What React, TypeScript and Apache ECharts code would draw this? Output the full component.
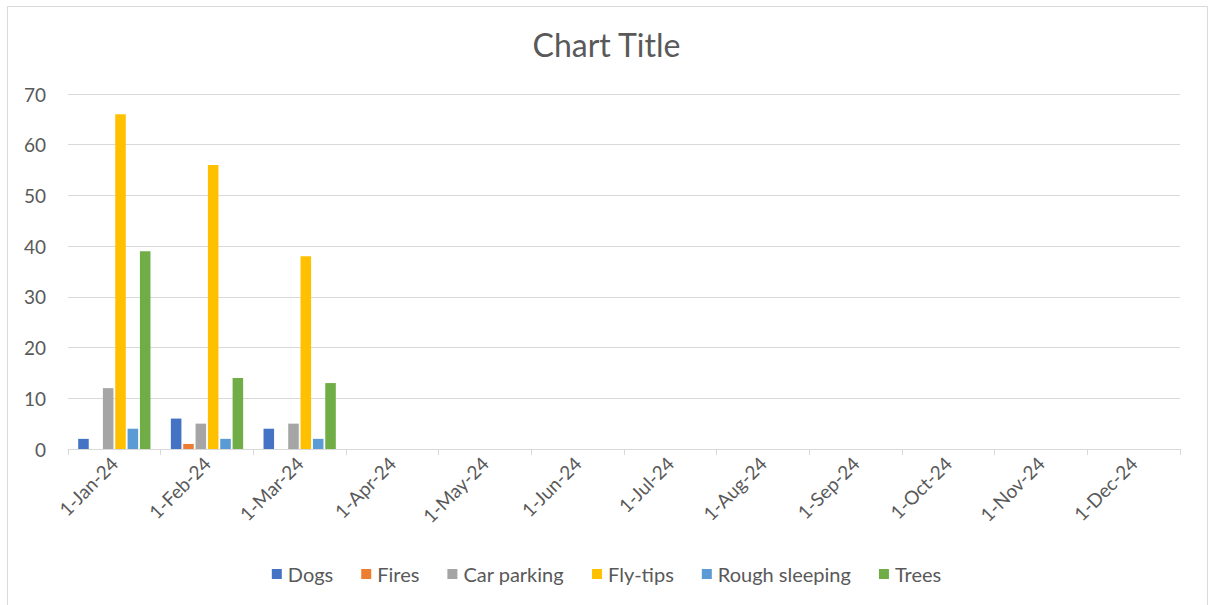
import React, { useEffect, useRef } from "react";
import * as echarts from "echarts";

const categories = [
  "1-Jan-24", "1-Feb-24", "1-Mar-24", "1-Apr-24", "1-May-24", "1-Jun-24",
  "1-Jul-24", "1-Aug-24", "1-Sep-24", "1-Oct-24", "1-Nov-24", "1-Dec-24",
];
const dogs = [2, 6, 4];
const fires = [0, 1, 0];
const carParking = [12, 5, 5];
const flyTips = [66, 56, 38];
const roughSleeping = [4, 2, 2];
const trees = [39, 14, 13];

const seriesNames = ["Dogs", "Fires", "Car parking", "Fly-tips", "Rough sleeping", "Trees"];
const seriesData = [dogs, fires, carParking, flyTips, roughSleeping, trees];
const colors = ["#4472C4", "#ED7D31", "#A5A5A5", "#FFC000", "#5B9BD5", "#70AD47"];

const FONT = "Lato, 'Noto Sans', sans-serif";

export default function App() {
  const ref = useRef<HTMLDivElement>(null);
  useEffect(() => {
    if (!ref.current) return;
    const chart = echarts.init(ref.current, undefined, { renderer: "svg" });
    chart.setOption({
      animation: false,
      backgroundColor: "#ffffff",
      color: colors,
      textStyle: { fontFamily: FONT },
      title: {
        text: "Chart Title",
        left: "center",
        top: 23,
        textStyle: { fontFamily: FONT, fontSize: 32, fontWeight: "normal", color: "#595959" },
      },
      graphic: [
        {
          type: "rect",
          shape: { x: 7.5, y: 6.5, width: 1200, height: 610 },
          style: { fill: "none", stroke: "#d9d9d9", lineWidth: 1 },
          silent: true,
        },
      ],
      legend: {
        top: 559,
        left: "center",
        itemWidth: 10,
        itemHeight: 10,
        itemGap: 28,
        icon: "rect",
        textStyle: { fontFamily: FONT, fontSize: 20, color: "#595959", padding: [0, 0, 0, 1] },
        data: seriesNames,
      },
      grid: { left: 68, right: 33, top: 94, bottom: 156, containLabel: false },
      xAxis: {
        type: "category",
        data: categories,
        boundaryGap: true,
        axisLine: { show: true, lineStyle: { color: "#d9d9d9", width: 1 } },
        axisTick: { show: true, length: 6, lineStyle: { color: "#d9d9d9" } },
        axisLabel: {
          rotate: 45,
          interval: 0,
          fontFamily: FONT,
          fontSize: 19,
          color: "#595959",
          margin: 11,
        },
      },
      yAxis: {
        type: "value",
        min: 0,
        max: 70,
        interval: 10,
        axisLine: { show: false },
        axisTick: { show: false },
        axisLabel: { fontFamily: FONT, fontSize: 19, color: "#595959", margin: 22 },
        splitLine: { lineStyle: { color: "#d9d9d9", width: 1 } },
      },
      series: seriesNames.map((name, i) => ({
        name,
        type: "bar",
        data: seriesData[i],
        barCategoryGap: "22%",
        barGap: "17%",
        itemStyle: { color: colors[i] },
      })),
    });
    return () => chart.dispose();
  }, []);
  return (
    <div
      ref={ref}
      style={{ position: "absolute", left: 0, top: 0, width: 1213, height: 605 }}
    />
  );
}
